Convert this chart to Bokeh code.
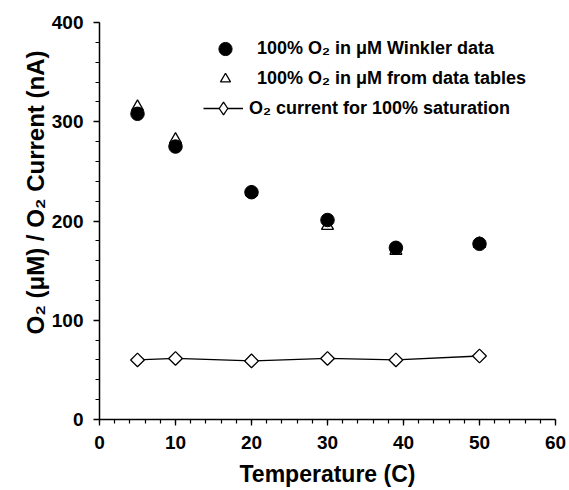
import numpy as np
from bokeh.plotting import figure
from bokeh.models import Range1d, SingleIntervalTicker, Legend, LegendItem, Title
from bokeh.embed import file_html
from bokeh.resources import INLINE

# ---- data ----
temp_winkler = [5, 10, 20, 30, 39, 50]
o2_winkler = [308, 275, 229, 201, 173, 177]

temp_tables = [5, 10, 20, 30, 39, 50]
o2_tables = [315, 282, 229, 195, 170, 177]

temp_current = [5, 10, 20, 30, 39, 50]
current_sat = [60, 61.5, 59, 61.5, 60, 64]

x_title = "Temperature (C)"
y_title = "O\u2082 (\u03bcM) / O\u2082 Current (nA)"
label_winkler = "100% O\u2082 in \u03bcM Winkler data"
label_tables = "100% O\u2082 in \u03bcM from data tables"
label_current = "O\u2082 current for 100% saturation"

FONT = "Liberation Sans"

p = figure(width=569, height=490, output_backend="svg", toolbar_location=None,
           x_range=Range1d(0, 60), y_range=Range1d(0, 400),
           min_border_left=99, min_border_right=14, min_border_top=22,
           min_border_bottom=71)
p.outline_line_color = None
p.grid.visible = False
p.background_fill_color = "white"
p.border_fill_color = "white"

p.xaxis.ticker = SingleIntervalTicker(interval=10, num_minor_ticks=5)
p.yaxis.ticker = SingleIntervalTicker(interval=100, num_minor_ticks=5)

for ax in (p.xaxis[0], p.yaxis[0]):
    ax.axis_line_width = 1.5
    ax.axis_line_color = "black"
    ax.major_tick_in = 0
    ax.major_tick_out = 6
    ax.minor_tick_in = 0
    ax.minor_tick_out = 4
    ax.major_tick_line_width = 1.3
    ax.minor_tick_line_width = 1.2
    ax.major_tick_line_color = "black"
    ax.minor_tick_line_color = "black"
    ax.major_label_text_font = FONT
    ax.major_label_text_font_style = "bold"
    ax.major_label_text_font_size = "19px"
    ax.major_label_text_color = "black"
    ax.axis_label_text_font = FONT
    ax.axis_label_text_font_style = "bold"
    ax.axis_label_text_font_size = "23px"
    ax.axis_label_text_color = "black"

p.xaxis.major_label_standoff = 10
p.xaxis.axis_label = x_title
p.xaxis.axis_label_standoff = 9
p.yaxis.major_label_standoff = 10

# y title placed as a side title so it can sit off-centre like the reference
p.add_layout(Title(text=y_title, align="right", offset=28,
                   text_font=FONT, text_font_style="bold",
                   text_font_size="24px", text_color="black", standoff=0),
             "left")

tri = p.scatter(temp_tables, o2_tables, marker="triangle", size=12,
                fill_color="white", line_color="black", line_width=1.3)
circ = p.scatter(temp_winkler, o2_winkler, marker="circle", size=13.5,
                 fill_color="black", line_color="black")
ln = p.line(temp_current, current_sat, line_color="black", line_width=1.3)
# diamond-shaped key for the legend (sits hidden beneath the plotted diamonds)
dia_key = p.scatter(temp_current, current_sat, marker="diamond", size=11,
                    fill_color="white", line_color="black", line_width=1.3)
dia = p.scatter(temp_current, current_sat, marker="square", angle=np.pi / 4,
                size=9.7, fill_color="white", line_color="black", line_width=1.3)


def add_legend(items, gh, standoff, loc):
    lg = Legend(items=items, location=loc, glyph_width=40, glyph_height=gh,
                label_standoff=standoff, padding=0, margin=0, spacing=0,
                border_line_alpha=0, background_fill_alpha=0,
                label_text_font=FONT, label_text_font_style="bold",
                label_text_font_size="18px", label_text_color="black",
                label_height=20)
    p.add_layout(lg)


add_legend([LegendItem(label=label_winkler, renderers=[circ])], 33, 12, (106, 354))
add_legend([LegendItem(label=label_tables, renderers=[tri])], 25, 12, (106, 328))
add_legend([LegendItem(label=label_current, renderers=[ln, dia_key])], 32, 6, (104, 295))

open("out.html", "w").write(file_html(p, INLINE))
